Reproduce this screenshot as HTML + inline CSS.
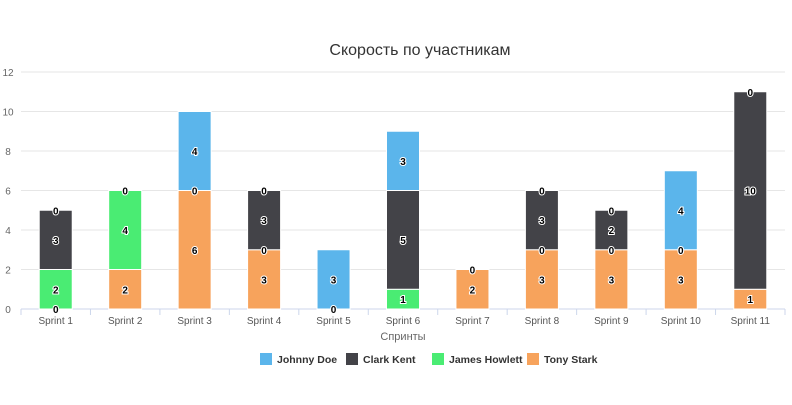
<!DOCTYPE html>
<html><head><meta charset="utf-8"><style>
body{margin:0;background:#fff;font-family:"Liberation Sans","DejaVu Sans",sans-serif;}
svg text{font-family:"Liberation Sans","DejaVu Sans",sans-serif;}
</style></head><body>
<svg id="c" width="792" height="400" xmlns="http://www.w3.org/2000/svg">
<text x="420" y="55" text-anchor="middle" font-size="16" fill="#333">Скорость по участникам</text>
<text x="403" y="340" text-anchor="middle" font-size="11" fill="#666">Спринты</text>
</svg>
<script>
const categories=["Sprint 1","Sprint 2","Sprint 3","Sprint 4","Sprint 5","Sprint 6","Sprint 7","Sprint 8","Sprint 9","Sprint 10","Sprint 11"];
const seriesNames=["Tony Stark","James Howlett","Clark Kent","Johnny Doe"];
const tonyStark=[0,2,6,3,0,null,2,3,3,3,1];
const jamesHowlett=[2,4,0,0,null,1,0,0,0,0,null];
const clarkKent=[3,0,null,3,null,5,null,3,2,null,10];
const johnnyDoe=[0,null,4,0,3,3,null,0,0,4,0];
const yTicks=[0,2,4,6,8,10,12];
const colors=["#f7a35c","#4aec73","#434348","#5bb5eb"];
const legendOrder=[3,2,1,0];
const NS="http://www.w3.org/2000/svg";
const svg=document.getElementById('c');
const L=21,R=785,T=72,B=309,yMax=12;
const y=v=>B-(v/yMax)*(B-T);
const cw=(R-L)/categories.length;
const xc=i=>L+cw*(i+0.5);
function mk(t,a){const e=document.createElementNS(NS,t);for(const k in a)e.setAttribute(k,a[k]);svg.appendChild(e);return e;}
yTicks.forEach(v=>{
 const g=mk('line',{x1:L,x2:R,y1:y(v),y2:y(v),stroke:v===0?'#ccd6eb':'#e6e6e6'});
 
 
 const t=mk('text',{x:8,y:y(v)+4,'text-anchor':'middle','font-size':'10',fill:'#666'});
 t.textContent=v;
 
 
});
for(let i=0;i<=categories.length;i++){
 const tk=mk('line',{x1:L+cw*i,x2:L+cw*i,y1:B,y2:B+6,stroke:'#ccd6eb'});
 
 
}
categories.forEach((c,i)=>{
 const t=mk('text',{x:xc(i),y:B+15,'text-anchor':'middle','font-size':'10',fill:'#555'});
 t.textContent=c;
 
 
});
const data=[tonyStark,jamesHowlett,clarkKent,johnnyDoe];
const bw=33;
categories.forEach((c,i)=>{
 let base=0;const labels=[];
 data.forEach((s,k)=>{
  const v=s[i];if(v===null)return;
  if(v>0){
   const r=mk('rect',{x:xc(i)-bw/2,y:y(base+v),width:bw,height:y(base)-y(base+v),fill:colors[k],stroke:'#fff','stroke-width':1});
   
   
  }
  labels.push([v,v>0?(y(base)+y(base+v))/2:y(base)]);
  base+=v;
 });
 labels.forEach(([v,yy])=>{
  const t=mk('text',{x:xc(i),y:yy+4,'text-anchor':'middle','font-size':'10','font-weight':'bold',fill:'#000',stroke:'#fff','stroke-width':'2','paint-order':'stroke'});
  t.textContent=v;
  
  
 });
});
const lx=[260,346,432,527];
legendOrder.forEach((k,j)=>{
 const r=mk('rect',{x:lx[j],y:353,width:12,height:12,fill:colors[k]});
 
 
 const t=mk('text',{x:lx[j]+17,y:363,'font-size':'10.5','font-weight':'bold',fill:'#333'});
 t.textContent=seriesNames[k];
 
 
});
</script>
</body></html>
